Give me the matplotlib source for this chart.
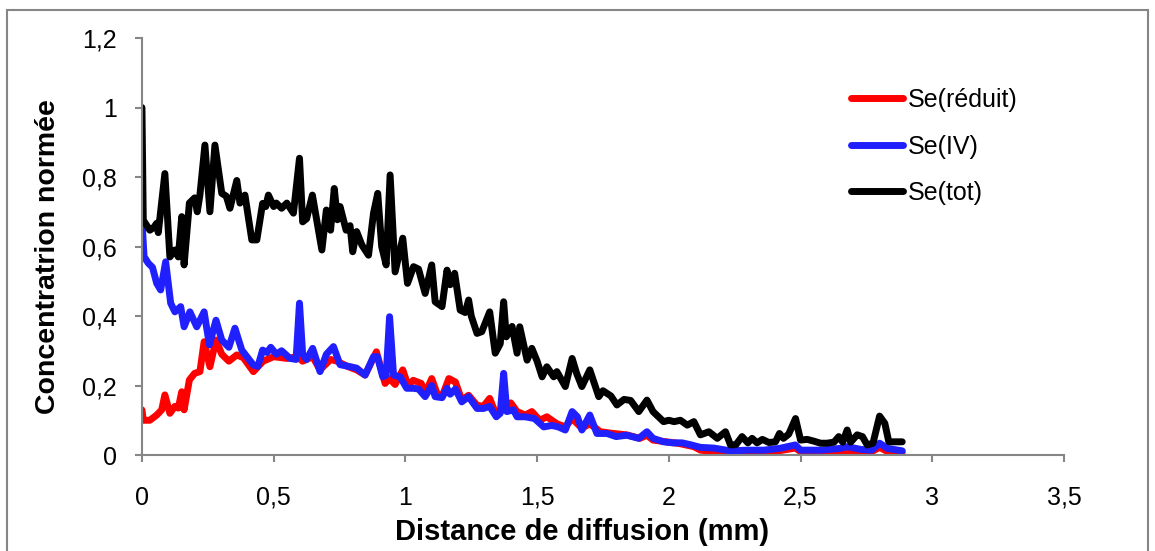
import matplotlib.pyplot as plt
from matplotlib.patches import Rectangle
from matplotlib.ticker import FuncFormatter

plt.rcParams['font.family'] = ['Liberation Sans', 'DejaVu Sans']

# Se(tot)
tot_x = [0.0, 0.005, 0.03, 0.045, 0.056, 0.062, 0.087, 0.106, 0.125, 0.138, 0.151, 0.16, 0.18, 0.20,
         0.21, 0.22, 0.239, 0.258, 0.277, 0.303, 0.32, 0.334, 0.36, 0.372, 0.391, 0.417, 0.436,
         0.458, 0.47, 0.48, 0.50, 0.51, 0.53, 0.55, 0.575, 0.598, 0.61, 0.625, 0.647, 0.683,
         0.70, 0.716, 0.73, 0.742, 0.752, 0.775, 0.79, 0.80, 0.815, 0.835, 0.86, 0.879, 0.895,
         0.91, 0.927, 0.942, 0.961, 0.99, 1.008, 1.031, 1.05, 1.075, 1.10, 1.113, 1.139, 1.158,
         1.17, 1.187, 1.208, 1.227, 1.24, 1.25, 1.272, 1.29, 1.32, 1.341, 1.36, 1.373, 1.383,
         1.405, 1.424, 1.434, 1.462, 1.48, 1.50, 1.519, 1.537, 1.563, 1.575, 1.607, 1.633, 1.65,
         1.67, 1.70, 1.734, 1.75, 1.78, 1.803, 1.83, 1.855, 1.886, 1.917, 1.94, 1.98, 2.0, 2.02,
         2.044, 2.07, 2.095, 2.12, 2.152, 2.184, 2.215, 2.234, 2.255, 2.278, 2.30, 2.316, 2.335,
         2.355, 2.38, 2.405, 2.42, 2.435, 2.455, 2.481, 2.50, 2.525, 2.55, 2.576, 2.60, 2.627,
         2.645, 2.66, 2.677, 2.69, 2.715, 2.735, 2.753, 2.775, 2.80, 2.82, 2.835, 2.855, 2.886]
tot_y = [1.0, 0.676, 0.647, 0.655, 0.667, 0.64, 0.81, 0.57, 0.59, 0.57, 0.686, 0.547, 0.725, 0.74,
         0.70, 0.748, 0.892, 0.70, 0.892, 0.753, 0.745, 0.71, 0.79, 0.725, 0.748, 0.619, 0.619,
         0.724, 0.715, 0.748, 0.715, 0.725, 0.71, 0.725, 0.696, 0.854, 0.671, 0.68, 0.748, 0.59,
         0.705, 0.647, 0.767, 0.677, 0.715, 0.647, 0.66, 0.585, 0.643, 0.604, 0.575, 0.696, 0.753,
         0.60, 0.547, 0.806, 0.527, 0.624, 0.494, 0.542, 0.535, 0.465, 0.547, 0.441, 0.427, 0.532,
         0.49, 0.523, 0.417, 0.41, 0.446, 0.40, 0.35, 0.355, 0.412, 0.293, 0.32, 0.441, 0.34,
         0.37, 0.293, 0.369, 0.273, 0.307, 0.27, 0.225, 0.254, 0.225, 0.24, 0.197, 0.278, 0.235,
         0.197, 0.245, 0.168, 0.185, 0.17, 0.144, 0.16, 0.157, 0.125, 0.158, 0.125, 0.096, 0.10, 0.096,
         0.10, 0.086, 0.096, 0.058, 0.067, 0.048, 0.067, 0.029, 0.03, 0.053, 0.035, 0.048, 0.035,
         0.045, 0.036, 0.038, 0.062, 0.048, 0.06, 0.105, 0.043, 0.045, 0.04, 0.034, 0.034, 0.037,
         0.053, 0.037, 0.072, 0.037, 0.058, 0.053, 0.029, 0.034, 0.112, 0.091, 0.038, 0.038, 0.038]

# Se(IV)
iv_x = [0.0, 0.008, 0.024, 0.04, 0.056, 0.071, 0.09, 0.109, 0.125, 0.147, 0.16, 0.182, 0.208, 0.236,
        0.256, 0.281, 0.303, 0.33, 0.353, 0.379, 0.423, 0.44, 0.458, 0.475, 0.489, 0.51, 0.53,
        0.562, 0.585, 0.598, 0.61, 0.625, 0.648, 0.676, 0.70, 0.727, 0.752, 0.785, 0.815, 0.847,
        0.879, 0.894, 0.914, 0.927, 0.94, 0.955, 0.98, 1.005, 1.03, 1.05, 1.075, 1.10, 1.113,
        1.139, 1.158, 1.17, 1.19, 1.214, 1.24, 1.272, 1.296, 1.32, 1.345, 1.36, 1.373, 1.385,
        1.41, 1.424, 1.455, 1.49, 1.525, 1.556, 1.58, 1.607, 1.633, 1.653, 1.67, 1.70, 1.727,
        1.765, 1.80, 1.84, 1.886, 1.917, 1.94, 1.98, 2.015, 2.05, 2.08, 2.12, 2.17, 2.234, 2.30,
        2.36, 2.42, 2.48, 2.50, 2.576, 2.65, 2.677, 2.73, 2.77, 2.80, 2.83, 2.886]
iv_y = [0.676, 0.571, 0.552, 0.54, 0.494, 0.475, 0.556, 0.437, 0.412, 0.427, 0.369, 0.412, 0.369, 0.412,
        0.317, 0.388, 0.331, 0.31, 0.365, 0.302, 0.259, 0.255, 0.302, 0.295, 0.31, 0.29, 0.30,
        0.278, 0.275, 0.437, 0.29, 0.275, 0.307, 0.24, 0.29, 0.312, 0.26, 0.255, 0.25, 0.23,
        0.283, 0.283, 0.225, 0.23, 0.398, 0.23, 0.225, 0.192, 0.192, 0.19, 0.168, 0.20, 0.168,
        0.165, 0.192, 0.175, 0.19, 0.153, 0.168, 0.134, 0.134, 0.14, 0.110, 0.12, 0.235, 0.125,
        0.13, 0.11, 0.11, 0.105, 0.081, 0.085, 0.081, 0.072, 0.125, 0.11, 0.072, 0.115, 0.062,
        0.062, 0.053, 0.057, 0.048, 0.067, 0.048, 0.038, 0.035, 0.035, 0.03, 0.022, 0.02, 0.012, 0.014,
        0.014, 0.019, 0.029, 0.014, 0.014, 0.019, 0.024, 0.016, 0.014, 0.034, 0.019, 0.012]

# Se(réduit)
red_x = [0.0, 0.005, 0.03, 0.056, 0.075, 0.087, 0.106, 0.125, 0.138, 0.151, 0.16, 0.18, 0.20, 0.22,
         0.236, 0.258, 0.281, 0.303, 0.33, 0.36, 0.385, 0.423, 0.46, 0.50, 0.55, 0.59, 0.61, 0.648,
         0.676, 0.716, 0.74, 0.78, 0.815, 0.847, 0.89, 0.923, 0.94, 0.961, 0.99, 1.01, 1.03, 1.06,
         1.075, 1.10, 1.12, 1.139, 1.165, 1.19, 1.214, 1.24, 1.272, 1.296, 1.32, 1.345, 1.373,
         1.40, 1.424, 1.455, 1.48, 1.51, 1.537, 1.575, 1.607, 1.633, 1.67, 1.70, 1.74, 1.79, 1.84,
         1.89, 1.917, 1.94, 1.99, 2.04, 2.095, 2.12, 2.17, 2.234, 2.30, 2.40, 2.48, 2.50, 2.60,
         2.70, 2.77, 2.80, 2.83, 2.886]
red_y = [0.13, 0.10, 0.10, 0.115, 0.13, 0.173, 0.12, 0.14, 0.135, 0.182, 0.13, 0.216, 0.235, 0.24,
         0.326, 0.254, 0.331, 0.29, 0.27, 0.288, 0.28, 0.24, 0.27, 0.283, 0.278, 0.283, 0.27, 0.283,
         0.245, 0.275, 0.27, 0.255, 0.245, 0.23, 0.297, 0.206, 0.22, 0.203, 0.245, 0.2, 0.215, 0.206,
         0.177, 0.22, 0.177, 0.168, 0.22, 0.21, 0.158, 0.172, 0.143, 0.14, 0.163, 0.115, 0.14,
         0.15, 0.125, 0.115, 0.125, 0.10, 0.11, 0.09, 0.081, 0.105, 0.077, 0.09, 0.067, 0.062, 0.058,
         0.048, 0.057, 0.043, 0.038, 0.033, 0.024, 0.014, 0.01, 0.008, 0.01, 0.01, 0.02, 0.01, 0.01,
         0.012, 0.01, 0.022, 0.01, 0.008]

x_ticks = [0, 0.5, 1, 1.5, 2, 2.5, 3, 3.5]
y_ticks = [0, 0.2, 0.4, 0.6, 0.8, 1.0, 1.2]

fig = plt.figure(figsize=(11.55, 5.51), dpi=100)
ax = fig.add_axes([0.1229, 0.1742, 0.7983, 0.7568])

kw = dict(lw=5, solid_joinstyle='round', solid_capstyle='round')
ax.plot(red_x, red_y, color='#ff0000', label='Se(réduit)', **kw)
ax.plot(iv_x, iv_y, color='#2020ff', label='Se(IV)', **kw)
ax.plot(tot_x, tot_y, color='#000000', label='Se(tot)', **kw)

ax.set_xlim(0, 3.5)
ax.set_ylim(0, 1.2)
ax.set_xticks(x_ticks)
ax.set_yticks(y_ticks)
fmt = FuncFormatter(lambda v, p: ('%g' % round(v, 2)).replace('.', ','))
ax.xaxis.set_major_formatter(fmt)
ax.yaxis.set_major_formatter(fmt)

gray = '#868686'
for s in ['top', 'right']:
    ax.spines[s].set_visible(False)
for s in ['left', 'bottom']:
    ax.spines[s].set_color(gray)
    ax.spines[s].set_linewidth(1.5)
ax.tick_params(axis='x', direction='out', length=5, width=1.5, color=gray,
               labelsize=18, pad=17)
ax.tick_params(axis='y', direction='out', length=5, width=1.5, color=gray,
               labelsize=18, pad=13)

ax.set_xlabel('Distance de diffusion (mm)', fontsize=21, fontweight='bold')
ax.set_ylabel('Concentratrion normée', fontsize=20.5, fontweight='bold')
ax.xaxis.set_label_coords(0.477, -0.15)
ax.yaxis.set_label_coords(-0.088, 0.475)

ax.legend(loc='upper left', bbox_to_anchor=(0.717, 0.881), bbox_transform=fig.transFigure,
          frameon=False, fontsize=18, handlelength=2.1, handletextpad=0.2, labelspacing=0.9)

# outer chart border
fig.add_artist(Rectangle((7 / 1155, -0.05), 1141 / 1155, 1.05 - 10 / 551,
                         transform=fig.transFigure, fill=False, edgecolor=gray, lw=1.5))

fig.savefig('out.png', dpi=100)
